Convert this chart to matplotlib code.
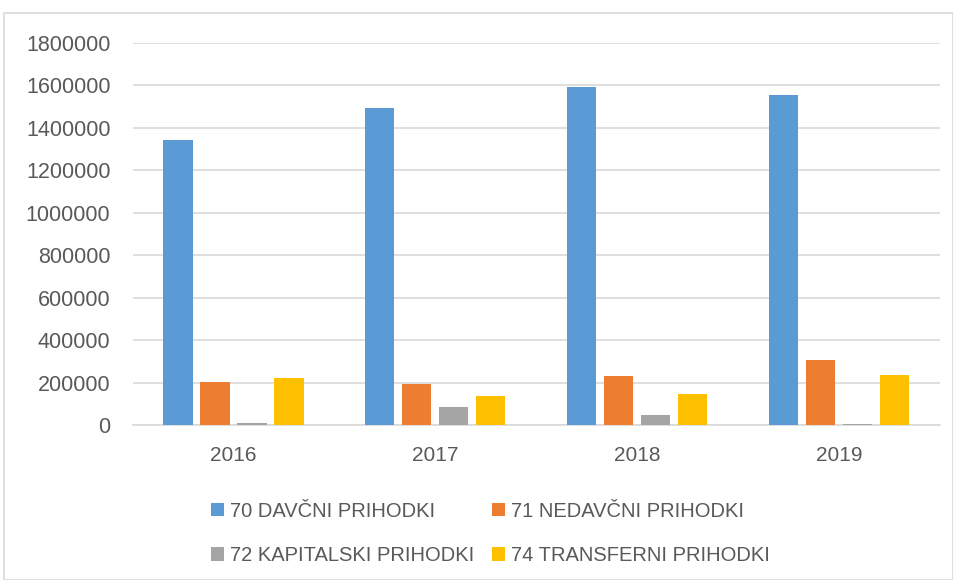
from matplotlib import pyplot as plt
from matplotlib.patches import Rectangle
import numpy as np

years = ["2016", "2017", "2018", "2019"]
series_names = ["70 DAVČNI PRIHODKI", "71 NEDAVČNI PRIHODKI",
                "72 KAPITALSKI PRIHODKI", "74 TRANSFERNI PRIHODKI"]
davcni = [1345000, 1493000, 1594000, 1554000]
nedavcni = [203000, 194000, 233000, 305000]
kapitalski = [9500, 84500, 48000, 4000]
transferni = [223000, 137000, 147000, 236000]
colors = ["#5b9bd5", "#ed7d31", "#a5a5a5", "#ffc000"]

plt.rcParams['font.family'] = ['Liberation Sans', 'DejaVu Sans']
text_col = "#595959"
grid_col = "#d9d9d9"
fs = 14.5

fig = plt.figure(figsize=(9.54, 5.8), dpi=100)
ax = fig.add_axes([0.139, 0.267, 0.846, 0.659])

x = np.arange(len(years))
pitch = 0.1834
width = 0.144
all_series = [davcni, nedavcni, kapitalski, transferni]
bars = []
for i, (vals, name, c) in enumerate(zip(all_series, series_names, colors)):
    bars.append(ax.bar(x + (i - 1.5) * pitch, vals, width, color=c, label=name, zorder=3))

ax.set_xlim(-0.5, 3.5)
ax.set_ylim(0, 1800000)
ax.set_yticks(np.arange(0, 1800001, 200000))
ax.set_yticklabels([str(v) for v in range(0, 1800001, 200000)])
ax.set_xticks(x)
ax.set_xticklabels(years)
ax.yaxis.grid(True, color=grid_col, lw=1.2, zorder=0)
for s in ["top", "right", "left"]:
    ax.spines[s].set_visible(False)
ax.spines["bottom"].set_color(grid_col)
ax.spines["bottom"].set_linewidth(1.2)
ax.tick_params(axis="both", length=0, colors=text_col)
ax.tick_params(axis="x", pad=15, labelsize=15)
ax.tick_params(axis="y", pad=16, labelsize=15.5)

# legend is filled row by row in the reference
order = [0, 2, 1, 3]
leg = fig.legend([bars[i] for i in order], [series_names[i] for i in order],
                 loc="upper center", bbox_to_anchor=(0.514, 0.166), ncol=2,
                 frameon=False, fontsize=fs, handlelength=0.65, handleheight=0.65,
                 handletextpad=0.3, columnspacing=0.85, labelspacing=1.25)
for t in leg.get_texts():
    t.set_color(text_col)

fig.patches.append(Rectangle((4 / 954, 0), 949 / 954, 1 - 13 / 580,
                             transform=fig.transFigure, fill=False,
                             edgecolor=grid_col, lw=1.2))

fig.savefig("out.png", dpi=100)
